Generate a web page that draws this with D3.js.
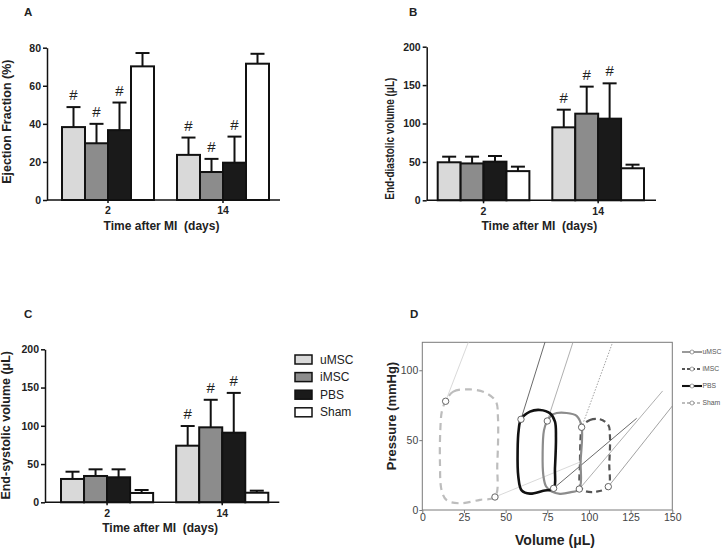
<!DOCTYPE html>
<html>
<head>
<meta charset="utf-8">
<script src="https://cdn.jsdelivr.net/npm/d3@7"></script>
<style>
  body { margin: 0; background: #fff; }
  svg { font-family: "Liberation Sans", Arial, sans-serif; }
</style>
</head>
<body>
<svg id="fig" width="722" height="549"></svg>
<script>
// groups and time points
const groups = ["uMSC", "iMSC", "PBS", "Sham"];
const days = ["2", "14"];

// A: ejection fraction (%), mean and upper SD per day
const efMean = { "2": [38.3, 29.8, 36.7, 70.2], "14": [23.7, 14.7, 19.6, 71.6] };
const efSd   = { "2": [10.5, 10.2, 14.5, 7.0],  "14": [9.1, 6.9, 13.7, 5.2] };
const efSig  = { "2": [1, 1, 1, 0], "14": [1, 1, 1, 0] };

// B: end-diastolic volume (uL)
const edvMean = { "2": [49.5, 48.0, 50.3, 38.0], "14": [95.0, 112.8, 106.3, 41.7] };
const edvSd   = { "2": [7.3, 8.8, 7.4, 5.8],     "14": [23.0, 35.2, 46.0, 4.7] };
const edvSig  = { "2": [0, 0, 0, 0], "14": [1, 1, 1, 0] };

// C: end-systolic volume (uL)
const esvMean = { "2": [30.5, 34.4, 32.7, 12.2], "14": [74.0, 98.0, 91.0, 12.5] };
const esvSd   = { "2": [9.5, 8.7, 10.4, 3.9],    "14": [25.7, 36.0, 52.0, 2.7] };
const esvSig  = { "2": [0, 0, 0, 0], "14": [1, 1, 1, 0] };

// D: pressure-volume loops [volume, pressure]
const loopSham = [[14,77.8],[18.6,84.7],[28.6,86.3],[38.6,83.5],[44.2,77.5],[45.4,66],[45,33],[43.6,9.5],[34.6,7.3],[22.6,4.8],[14.6,7],[11.6,14],[10.6,33],[10.8,57],[11.8,71]];
const loopPBS  = [[59.2,64.9],[64.6,70.4],[70.6,71.6],[76.6,69.2],[79.6,63.2],[80.2,52],[79.6,30],[78.8,15.5],[72.6,13.8],[64.6,11.7],[59.6,14],[57.6,24],[57.2,43],[57.8,57]];
const loopU    = [[75,63.7],[78.6,68.6],[86.6,69.4],[92.6,67.3],[95.6,59.6],[95,35],[94.2,15],[88.6,12.6],[82.6,11.6],[77.6,13.2],[74.2,17],[72.6,25],[72.2,40],[73,57]];
const loopI    = [[95.6,59.2],[100.6,64.4],[106.6,64.9],[111.6,60.8],[112.6,52.5],[112.2,33],[111.6,16.7],[104.6,13.1],[97.6,13.6],[94.8,17],[94.6,33],[95,52.5]];
// end-systolic and end-diastolic points
const esPts = { Sham: [14,77.8], PBS: [59.2,64.9], uMSC: [75,63.7], iMSC: [95.6,59.2] };
const edPts = { Sham: [43.6,9.3], PBS: [78.8,15.5], uMSC: [94.2,15], iMSC: [111.6,16.7] };
// far ends of ESPVR / EDPVR lines
const espvrEnd = { Sham: [27.6,120], PBS: [73.6,120], uMSC: [90.4,120], iMSC: [114.2,120] };
const edpvrEnd = { Sham: [96,35], PBS: [128.6,65.6], uMSC: [144.2,85.2], iMSC: [150,74.4] };

const fills = ["#d9d9d9", "#8c8c8c", "#1a1a1a", "#ffffff"];
const svg = d3.select("#fig");

function barPanel(o) {
  const g = svg.append("g").attr("transform", `translate(${o.left},${o.top})`);
  const y = d3.scaleLinear().domain([0, o.ymax]).range([o.height, 0]);
  const x0 = d3.scaleBand().domain(days).range([o.padL, o.width - o.padR]).paddingInner(0.2);
  const x1 = d3.scaleBand().domain(groups).range([0, x0.bandwidth()]);

  const rows = [];
  days.forEach(d => groups.forEach((k, i) => rows.push({ day: d, key: k, i, m: o.mean[d][i], s: o.sd[d][i], sig: o.sig[d][i] })));

  const bar = g.selectAll("g.bar").data(rows).join("g").attr("class", "bar")
    .attr("transform", d => `translate(${x0(d.day) + x1(d.key)},0)`);
  const bw = x1.bandwidth();
  bar.append("line")
    .attr("x1", bw / 2).attr("x2", bw / 2)
    .attr("y1", d => y(d.m)).attr("y2", d => y(d.m + d.s))
    .attr("stroke", "#111").attr("stroke-width", 2);
  bar.append("line")
    .attr("x1", bw / 2 - 7).attr("x2", bw / 2 + 7)
    .attr("y1", d => y(d.m + d.s)).attr("y2", d => y(d.m + d.s))
    .attr("stroke", "#111").attr("stroke-width", 2);
  bar.append("rect")
    .attr("x", 0).attr("width", bw)
    .attr("y", d => y(d.m)).attr("height", d => o.height - y(d.m))
    .attr("fill", d => fills[d.i]).attr("stroke", "#111").attr("stroke-width", 2);
  bar.filter(d => d.sig).append("text")
    .attr("x", bw / 2).attr("y", d => y(d.m + d.s) - 7)
    .attr("text-anchor", "middle").attr("font-size", 15).attr("fill", "#222")
    .text("#");

  const ya = g.append("g").call(d3.axisLeft(y).tickValues(o.yticks).tickSize(4).tickSizeOuter(0).tickPadding(2));
  const xa = g.append("g").attr("transform", `translate(0,${o.height})`)
    .call(d3.axisBottom(x0).tickSize(3).tickSizeOuter(0).tickPadding(4));
  xa.select(".domain").attr("d", `M0,0H${o.width}`);
  [ya, xa].forEach(a => {
    a.selectAll("path,line").attr("stroke", "#111").attr("stroke-width", 1.5);
    a.selectAll("text").attr("font-size", 10.5).attr("font-weight", "bold").attr("fill", "#222");
  });

  g.append("text")
    .attr("x", o.width / 2 - 2).attr("y", o.height + 30)
    .attr("text-anchor", "middle").attr("font-size", 12).attr("font-weight", "bold").attr("fill", "#222")
    .text("Time after MI\u00a0\u00a0(days)");
  const yl = g.append("text")
    .attr("transform", `translate(${o.ylx},${o.yly}) rotate(-90)`)
    .attr("text-anchor", "middle").attr("font-size", 12.5).attr("font-weight", "bold").attr("fill", "#222")
    .text(o.ylabel);
  if (o.ylen) yl.attr("textLength", o.ylen).attr("lengthAdjust", "spacingAndGlyphs");
  return g;
}

barPanel({ left: 47, top: 47.7, width: 233, height: 152.3, ymax: 80, yticks: [0, 20, 40, 60, 80],
  padL: 15, padR: 11, mean: efMean, sd: efSd, sig: efSig,
  ylabel: "Ejection Fraction (%)", ylx: -36, yly: 74 });
barPanel({ left: 426.7, top: 46.7, width: 229.3, height: 153.6, ymax: 200, yticks: [0, 50, 100, 150, 200],
  padL: 11, padR: 12, mean: edvMean, sd: edvSd, sig: edvSig,
  ylabel: "End-diastolic volume (\u03bcL)", ylx: -33, yly: 92, ylen: 122 });
const gC = barPanel({ left: 45, top: 349.3, width: 234.3, height: 153, ymax: 200, yticks: [0, 50, 100, 150, 200],
  padL: 16, padR: 11, mean: esvMean, sd: esvSd, sig: esvSig,
  ylabel: "End-systolic volume (\u03bcL)", ylx: -35, yly: 76 });

// legend for bar panels
const leg = svg.append("g").attr("transform", "translate(295,355)");
const li = leg.selectAll("g").data(groups).join("g").attr("transform", (d, i) => `translate(0,${i * 17.6})`);
li.append("rect").attr("width", 17).attr("height", 9).attr("fill", (d, i) => fills[i])
  .attr("stroke", "#111").attr("stroke-width", 1.5);
li.append("text").attr("x", 25).attr("y", 8.5).attr("font-size", 12).attr("fill", "#222").text(d => d);

// panel letters
[["A", 24, 16], ["B", 409, 16], ["C", 24, 318], ["D", 410, 318]].forEach(([t, x, y]) =>
  svg.append("text").attr("x", x).attr("y", y).attr("font-size", 11.5).attr("font-weight", "bold")
    .attr("fill", "#222").text(t));

// D: pressure-volume loops
const xD = d3.scaleLinear().domain([0, 150]).range([422.3, 672.3]);
const yD = d3.scaleLinear().domain([0, 120]).range([510, 342.3]);
const gD = svg.append("g");
gD.append("rect").attr("x", xD(0)).attr("y", yD(120)).attr("width", xD(150) - xD(0)).attr("height", yD(0) - yD(120))
  .attr("fill", "none").attr("stroke", "#7a7a7a").attr("stroke-width", 1);

const axL = gD.append("g").attr("transform", `translate(${xD(0)},0)`)
  .call(d3.axisLeft(yD).tickValues([0, 50, 100]).tickSize(3).tickPadding(1));
const axB = gD.append("g").attr("transform", `translate(0,${yD(0)})`)
  .call(d3.axisBottom(xD).tickValues([0, 25, 50, 75, 100, 125, 150]).tickSize(3).tickPadding(1));
[axL, axB].forEach(a => {
  a.select(".domain").remove();
  a.selectAll("line").attr("stroke", "#7a7a7a");
  a.selectAll("text").attr("font-size", 10.5).attr("fill", "#444");
});

const styles = {
  uMSC: { c: "#8c8c8c", w: 2.2, dash: null, lc: "#9a9a9a", ldash: null },
  iMSC: { c: "#555555", w: 2.2, dash: "6,4", lc: "#8a8a8a", ldash: "1.5,1.5" },
  PBS:  { c: "#111111", w: 2.6, dash: null, lc: "#444444", ldash: null },
  Sham: { c: "#bdbdbd", w: 2.2, dash: "7,5", lc: "#cfcfcf", ldash: null }
};
const loops = [["Sham", loopSham], ["iMSC", loopI], ["uMSC", loopU], ["PBS", loopPBS]];
const lineGen = d3.line().x(d => xD(d[0])).y(d => yD(d[1]));
const loopGen = d3.line().x(d => xD(d[0])).y(d => yD(d[1])).curve(d3.curveCatmullRomClosed.alpha(0.5));

loops.forEach(([k]) => {
  const s = styles[k];
  gD.append("path").attr("d", lineGen([esPts[k], espvrEnd[k]]))
    .attr("stroke", s.lc).attr("stroke-width", 0.8).attr("fill", "none").attr("stroke-dasharray", s.ldash);
  gD.append("path").attr("d", lineGen([edPts[k], edpvrEnd[k]]))
    .attr("stroke", s.lc).attr("stroke-width", 0.8).attr("fill", "none");
});
loops.forEach(([k, pts]) => {
  const s = styles[k];
  gD.append("path").attr("d", loopGen(pts))
    .attr("stroke", s.c).attr("stroke-width", s.w).attr("fill", "none").attr("stroke-dasharray", s.dash);
});
loops.forEach(([k]) => {
  [esPts[k], edPts[k]].forEach(p => gD.append("circle")
    .attr("cx", xD(p[0])).attr("cy", yD(p[1])).attr("r", 3.2)
    .attr("fill", "#fff").attr("stroke", "#555").attr("stroke-width", 0.9));
});

gD.append("text").attr("x", 555).attr("y", 545).attr("text-anchor", "middle")
  .attr("font-size", 14).attr("font-weight", "bold").attr("fill", "#222").text("Volume (\u03bcL)");
gD.append("text").attr("transform", "translate(396,416) rotate(-90)").attr("text-anchor", "middle")
  .attr("font-size", 13).attr("font-weight", "bold").attr("fill", "#222").text("Pressure (mmHg)");

// D legend
const legD = gD.append("g").attr("transform", "translate(682,352)");
const ld = legD.selectAll("g").data(groups).join("g").attr("transform", (d, i) => `translate(0,${i * 17})`);
ld.append("line").attr("x1", 0).attr("x2", 20).attr("y1", 0).attr("y2", 0)
  .attr("stroke", d => styles[d].c).attr("stroke-width", d => styles[d].w * 0.8)
  .attr("stroke-dasharray", d => styles[d].dash ? "3,2" : null);
ld.append("circle").attr("cx", 10).attr("cy", 0).attr("r", 2).attr("fill", "#fff").attr("stroke", "#777").attr("stroke-width", 0.7);
ld.append("text").attr("x", 20.5).attr("y", 2.3).attr("font-size", 6.8).attr("fill", "#555").text(d => d);
</script>
</body>
</html>
